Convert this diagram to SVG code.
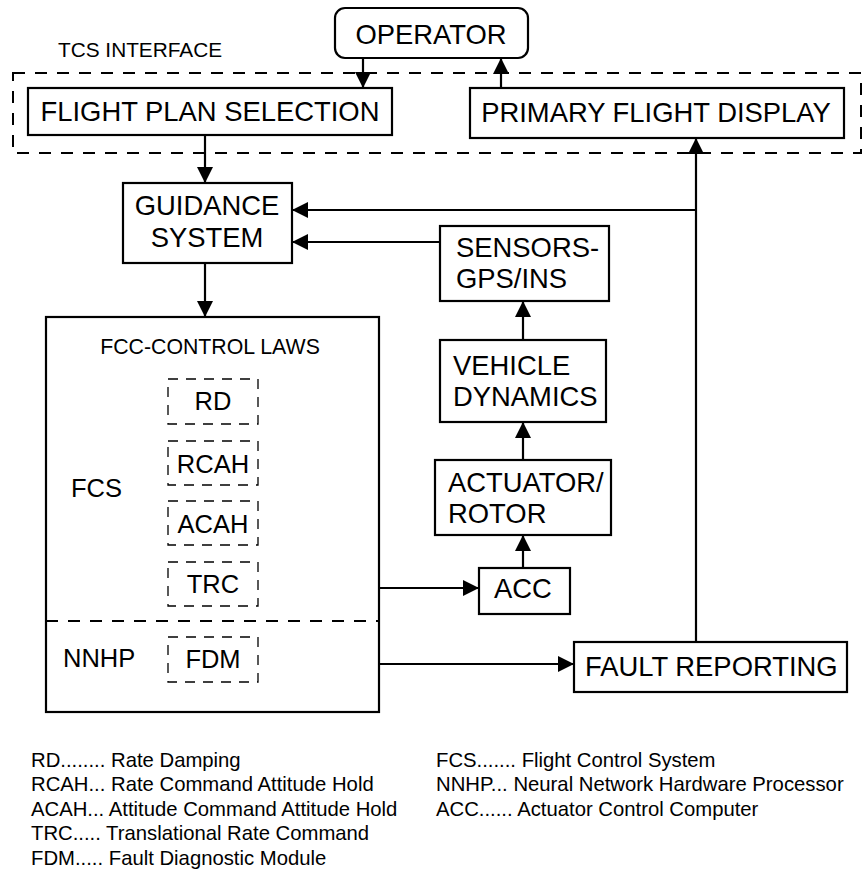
<svg xmlns="http://www.w3.org/2000/svg" width="864" height="877" viewBox="0 0 864 877">
<defs>
<marker id="ah" markerUnits="userSpaceOnUse" markerWidth="16" markerHeight="16" refX="16" refY="8" orient="auto"><path d="M0,0 L16,8 L0,16 z" fill="#000"/></marker>
<style>
text{font-family:"Liberation Sans",Arial,sans-serif;fill:#000}
.box{fill:#fff;stroke:#000;stroke-width:2.2}
.big{font-size:27.4px}
.mid{font-size:25.5px}
.sm{font-size:21.3px}
.leg{font-size:20.3px}
.dsh{fill:none;stroke:#000;stroke-width:2;stroke-dasharray:12 10}
.dsm{fill:none;stroke:#000;stroke-width:1.3;stroke-dasharray:10 8}
.c{fill:none;stroke:#000;stroke-width:2.2;marker-end:url(#ah)}
</style>
</defs>
<rect x="0" y="0" width="864" height="877" fill="#fff"/>
<g id="tcs-interface">
<rect x="13" y="73" width="848" height="80" class="dsh"/>
<text x="58" y="57" class="sm" style="font-size:20.8px">TCS INTERFACE</text>
</g>
<g id="operator">
<rect x="335" y="8" width="193" height="50" rx="10" class="box"/>
<text x="431" y="44" class="big" text-anchor="middle">OPERATOR</text>
</g>
<g id="flight-plan-selection">
<rect x="28" y="88" width="364" height="47" class="box"/>
<text x="210" y="121" class="big" text-anchor="middle">FLIGHT PLAN SELECTION</text>
</g>
<g id="primary-flight-display">
<rect x="470" y="88" width="374" height="50" class="box"/>
<text x="656" y="122" class="big" text-anchor="middle">PRIMARY FLIGHT DISPLAY</text>
</g>
<g id="guidance-system">
<rect x="123" y="183" width="169" height="80" class="box"/>
<text x="207" y="215" class="big" text-anchor="middle">GUIDANCE</text>
<text x="207" y="247" class="big" text-anchor="middle">SYSTEM</text>
</g>
<g id="sensors">
<rect x="440" y="226" width="169" height="75" class="box"/>
<text x="456" y="257" class="big">SENSORS-</text>
<text x="456" y="288" class="big">GPS/INS</text>
</g>
<g id="vehicle-dynamics">
<rect x="440" y="340" width="166" height="82" class="box"/>
<text x="453" y="375" class="big">VEHICLE</text>
<text x="453" y="406" class="big">DYNAMICS</text>
</g>
<g id="actuator-rotor">
<rect x="435" y="460" width="176" height="75" class="box"/>
<text x="448" y="492" class="big">ACTUATOR/</text>
<text x="448" y="523" class="big">ROTOR</text>
</g>
<g id="acc">
<rect x="479" y="568" width="91" height="46" class="box"/>
<text x="494" y="598" class="big">ACC</text>
</g>
<g id="fault-reporting">
<rect x="574" y="642" width="273" height="50" class="box"/>
<text x="585" y="676" class="big">FAULT REPORTING</text>
</g>
<g id="fcc">
<rect x="46" y="317" width="333" height="395" class="box"/>
<text x="210" y="354" class="sm" text-anchor="middle">FCC-CONTROL LAWS</text>
<line x1="46" y1="621" x2="379" y2="621" class="dsh"/>
<text x="71" y="497" class="mid">FCS</text>
<text x="63" y="667" class="mid">NNHP</text>
</g>
<g id="rd">
<rect x="168" y="379" width="90" height="45" class="dsm"/>
<text x="213" y="410" class="mid" text-anchor="middle">RD</text>
</g>
<g id="rcah">
<rect x="168" y="441" width="90" height="44" class="dsm"/>
<text x="213" y="473" class="mid" text-anchor="middle">RCAH</text>
</g>
<g id="acah">
<rect x="168" y="501" width="90" height="44" class="dsm"/>
<text x="213" y="533" class="mid" text-anchor="middle">ACAH</text>
</g>
<g id="trc">
<rect x="168" y="562" width="90" height="44" class="dsm"/>
<text x="213" y="593" class="mid" text-anchor="middle">TRC</text>
</g>
<g id="fdm">
<rect x="168" y="637" width="90" height="45" class="dsm"/>
<text x="213" y="668" class="mid" text-anchor="middle">FDM</text>
</g>
<g id="connectors">
<path d="M363,58 V88" class="c"/>
<path d="M501,88 V58" class="c"/>
<path d="M205,135 V183" class="c"/>
<path d="M696,642 V138" class="c"/>
<path d="M696,210 H292" class="c"/>
<path d="M440,242 H292" class="c"/>
<path d="M205,263 V317" class="c"/>
<path d="M379,588 H479" class="c"/>
<path d="M523,568 V535" class="c"/>
<path d="M523,460 V422" class="c"/>
<path d="M523,340 V301" class="c"/>
<path d="M379,664 H574" class="c"/>
</g>
<g id="legend">
<text x="31" y="767" class="leg">RD........ Rate Damping</text>
<text x="31" y="791" class="leg">RCAH... Rate Command Attitude Hold</text>
<text x="31" y="816" class="leg">ACAH... Attitude Command Attitude Hold</text>
<text x="31" y="840" class="leg">TRC..... Translational Rate Command</text>
<text x="31" y="865" class="leg">FDM..... Fault Diagnostic Module</text>
<text x="436" y="767" class="leg">FCS....... Flight Control System</text>
<text x="436" y="791" class="leg">NNHP... Neural Network Hardware Processor</text>
<text x="436" y="816" class="leg">ACC...... Actuator Control Computer</text>
</g>
</svg>
